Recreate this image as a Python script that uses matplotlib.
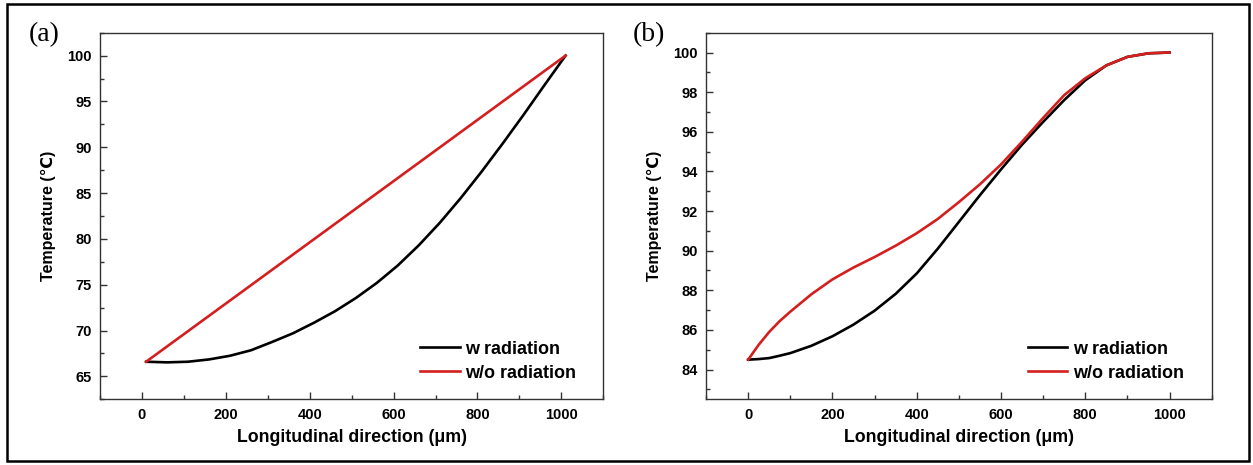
import matplotlib
matplotlib.use("Agg")
import matplotlib.pyplot as plt
from matplotlib.patches import Rectangle
from matplotlib.ticker import MultipleLocator

# ---------------- data ----------------
# Panel (a)
xa_w = [10, 60, 110, 160, 210, 260, 310, 360, 410, 460, 510, 560, 610, 660,
        710, 760, 810, 860, 910, 960, 1010]
ta_w = [66.6, 66.53, 66.6, 66.85, 67.25, 67.85, 68.75, 69.7, 70.85, 72.1, 73.55,
        75.2, 77.1, 79.3, 81.75, 84.45, 87.35, 90.4, 93.55, 96.8, 100.0]
xa_wo = [10, 1010]
ta_wo = [66.6, 100.0]

# Panel (b)
xb = [0, 25, 50, 75, 100, 150, 200, 250, 300, 350, 400, 450, 500, 550, 600, 650,
      700, 750, 800, 850, 900, 950, 1000]
tb_w = [84.5, 84.53, 84.58, 84.7, 84.83, 85.2, 85.68, 86.27, 86.97, 87.82, 88.85,
        90.1, 91.45, 92.8, 94.1, 95.35, 96.5, 97.6, 98.6, 99.35, 99.78, 99.96, 100.0]
tb_wo = [84.5, 85.25, 85.9, 86.45, 86.92, 87.8, 88.55, 89.15, 89.68, 90.25, 90.88,
         91.6, 92.45, 93.35, 94.35, 95.5, 96.7, 97.85, 98.7, 99.35, 99.78, 99.96, 100.0]

labels = ["w radiation", "w/o radiation"]
panel_tags = ["(a)", "(b)"]
xlabel = "Longitudinal direction (\u03bcm)"
ylabel = "Temperature (\u2103)"

# ---------------- style ----------------
SANS = ["Liberation Sans", "DejaVu Sans"]
plt.rcParams["font.family"] = SANS
RED = "#D41F1F"
SPINE = "#333333"

W, H = 1253, 465
fig = plt.figure(figsize=(W / 100, H / 100), dpi=100)

# outer frame
fig.patches.append(Rectangle((7 / W, 4 / H), (1249 - 7) / W, (461 - 4) / H,
                             transform=fig.transFigure, fill=False,
                             edgecolor="black", linewidth=1.8))

ax_a = fig.add_axes([100 / W, 1 - 399.3 / H, (603.3 - 100) / W, (399.3 - 32.7) / H])
ax_b = fig.add_axes([706 / W, 1 - 399.3 / H, (1211.7 - 706) / W, (399.3 - 32.7) / H])

ax_a.plot(xa_w, ta_w, color="black", lw=1.9, label=labels[0])
ax_a.plot(xa_wo, ta_wo, color=RED, lw=1.9, label=labels[1])
ax_b.plot(xb, tb_w, color="black", lw=1.9, label=labels[0])
ax_b.plot(xb, tb_wo, color=RED, lw=1.9, label=labels[1])

ax_a.set_ylim(62.5, 102.5)
ax_a.set_yticks([65, 70, 75, 80, 85, 90, 95, 100])
ax_a.yaxis.set_minor_locator(MultipleLocator(2.5))

ax_b.set_ylim(82.5, 101)
ax_b.set_yticks([84, 86, 88, 90, 92, 94, 96, 98, 100])
ax_b.yaxis.set_minor_locator(MultipleLocator(1))

for ax in (ax_a, ax_b):
    ax.set_xlim(-100, 1100)
    ax.set_xticks([0, 200, 400, 600, 800, 1000])
    ax.xaxis.set_minor_locator(MultipleLocator(100))
    for s in ax.spines.values():
        s.set_color(SPINE)
        s.set_linewidth(1.0)
    ax.tick_params(which="both", direction="in", top=False, right=False,
                   color=SPINE, width=1.0)
    ax.tick_params(which="major", length=5, labelsize=10.5, pad=6)
    ax.tick_params(which="minor", length=2.8)
    for lab in ax.get_xticklabels() + ax.get_yticklabels():
        lab.set_fontweight("bold")
    ax.set_xlabel(xlabel, fontsize=12.8, fontweight="bold", labelpad=5)
    ax.set_ylabel(ylabel, fontsize=11.5, fontweight="bold", labelpad=8)
    ax.legend(loc="upper left", frameon=False,
              prop={"family": SANS, "weight": "bold", "size": 13},
              handlelength=2.2, handletextpad=0.3, labelspacing=0.38,
              borderpad=0, borderaxespad=0,
              bbox_to_anchor=(0.636, 0.16))

fig.text(29 / W, 1 - 35 / H, panel_tags[0], fontsize=20,
         family=["Liberation Serif", "DejaVu Serif"], va="center", ha="left")
fig.text(633 / W, 1 - 35 / H, panel_tags[1], fontsize=20,
         family=["Liberation Serif", "DejaVu Serif"], va="center", ha="left")

fig.savefig("out.png", dpi=100)
